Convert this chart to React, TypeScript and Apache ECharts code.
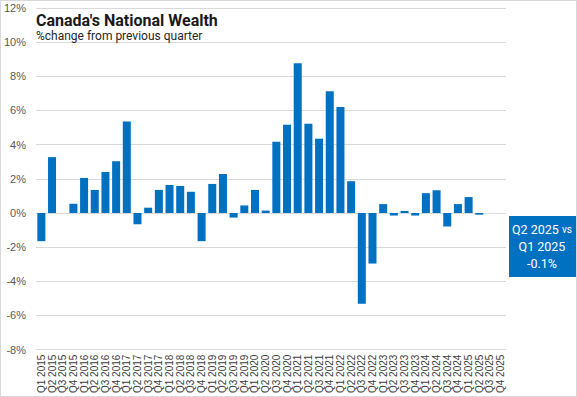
import React, { useEffect, useRef } from "react";
import * as echarts from "echarts";

const years = [2015, 2016, 2017, 2018, 2019, 2020, 2021, 2022, 2023, 2024, 2025];
const quarters = ["Q1", "Q2", "Q3", "Q4"];
const categories: string[] = [];
years.forEach((y) => quarters.forEach((q) => categories.push(`${q} ${y}`)));

const wealthChange: (number | null)[] = [
  -1.65, 3.27, 0, 0.54,
  2.05, 1.35, 2.4, 3.03,
  5.35, -0.66, 0.31, 1.35,
  1.64, 1.58, 1.24, -1.65,
  1.7, 2.28, -0.27, 0.44,
  1.35, 0.14, 4.17, 5.16,
  8.77, 5.22, 4.35, 7.13,
  6.2, 1.86, -5.31, -2.96,
  0.52, -0.15, 0.12, -0.15,
  1.16, 1.33, -0.79, 0.52,
  0.93, -0.1, null, null,
];

const yTicks = { min: -8, max: 12, interval: 2 };

const titleText = "Canada's National Wealth";
const subtitleText = "%change from previous quarter";
const calloutLines = ["Q2 2025", "vs", "Q1 2025", "-0.1%"];

export default function App() {
  const ref = useRef<HTMLDivElement>(null);
  useEffect(() => {
    if (!ref.current) return;
    const chart = echarts.init(ref.current, undefined, { renderer: "svg" });
    chart.setOption({
      animation: false,
      backgroundColor: "#ffffff",
      grid: { left: 35, right: 70, top: 7, bottom: 46, containLabel: false },
      title: {
        text: titleText,
        subtext: subtitleText,
        left: 30,
        top: 6,
        itemGap: 2,
        textStyle: {
          fontFamily: "Roboto",
          fontSize: 16,
          fontWeight: "bold",
          color: "#1a1a1a",
        },
        subtextStyle: {
          fontFamily: "Roboto",
          fontSize: 12,
          color: "#262626",
        },
      },
      xAxis: {
        type: "category",
        data: categories,
        axisLine: { onZero: false, lineStyle: { color: "#d9d9d9" } },
        axisTick: { show: false },
        axisLabel: {
          interval: 0,
          rotate: 90,
          fontFamily: "Liberation Sans",
          fontSize: 10,
          color: "#404040",
          margin: 5,
        },
      },
      yAxis: {
        type: "value",
        min: yTicks.min,
        max: yTicks.max,
        interval: yTicks.interval,
        axisLine: { show: false },
        axisTick: { show: false },
        axisLabel: {
          formatter: "{value}%",
          fontFamily: "Liberation Sans",
          fontSize: 11,
          color: "#595959",
          margin: 10,
        },
        splitLine: { lineStyle: { color: "#d9d9d9", width: 1 } },
      },
      series: [
        {
          type: "bar",
          data: wealthChange,
          barCategoryGap: "25%",
          itemStyle: { color: "#0070C0" },
        },
      ],
      graphic: [
        {
          type: "rect",
          left: 508,
          top: 215,
          shape: { width: 68, height: 61 },
          style: { fill: "#0070C0" },
        },
        {
          type: "text",
          left: 511,
          top: 222,
          style: {
            text: `{a|${calloutLines[0]} }{b|${calloutLines[1]}}\n{a|${calloutLines[2]}}\n{a|${calloutLines[3]}}`,
            align: "center",
            width: 62,
            rich: {
              a: { fontFamily: "Roboto", fontSize: 12.5, fill: "#ffffff", lineHeight: 17, align: "center" },
              b: { fontFamily: "Roboto", fontSize: 10, fill: "#ffffff", lineHeight: 17 },
            },
            fill: "#ffffff",
          },
        },
      ],
    });
    return () => chart.dispose();
  }, []);
  return (
    <div
      style={{
        position: "fixed",
        left: 0,
        top: 0,
        width: 577,
        height: 397,
        boxSizing: "border-box",
        border: "1px solid #d9d9d9",
        background: "#fff",
      }}
    >
      <div ref={ref} style={{ width: 575, height: 395 }} />
    </div>
  );
}
